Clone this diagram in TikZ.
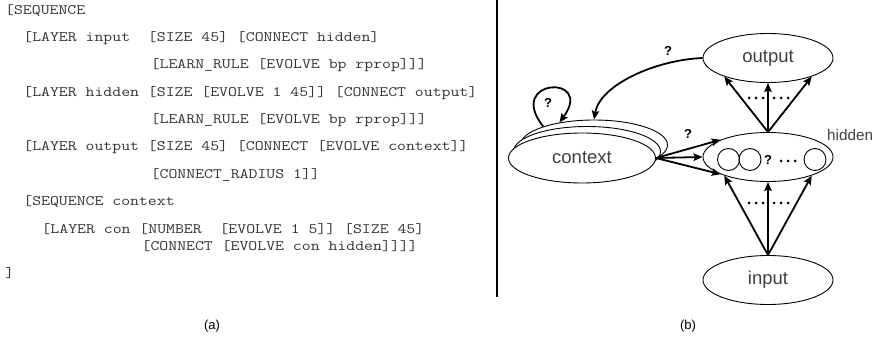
\documentclass[tikz,border=0pt]{standalone}
\usepackage{fontspec}
\setmainfont{Liberation Sans}
\newfontfamily\codefont{Latin Modern Mono}[FakeStretch=1.2]
\usetikzlibrary{shapes.geometric,arrows.meta}

\begin{document}
\frenchspacing
\begin{tikzpicture}[x=1pt,y=-1pt,
  code/.style={anchor=west, inner sep=0pt, text height=9pt, text depth=3pt,
               font=\codefont\fontsize{14.4}{16}\selectfont, text=black!80},
  layer/.style={ellipse, draw, line width=0.9pt, minimum width=130pt,
                minimum height=49pt, inner sep=0pt, fill=white,
                font=\fontsize{18.5}{20}\selectfont, text=black!75},
  ctxlayer/.style={layer, minimum width=147pt, minimum height=50pt},
  unit/.style={circle, draw, line width=0.9pt, minimum size=22pt, inner sep=0pt},
  arr/.style={line width=1.8pt, -{Stealth[length=9pt,width=7.5pt,inset=1.5pt]}},
  qmark/.style={font=\bfseries\fontsize{13}{13}\selectfont, inner sep=0pt},
  captext/.style={font=\fontsize{13}{13}\selectfont, inner sep=0pt}
]
\useasboundingbox (0,0) rectangle (879,339);

% ---- (a) network description (one character = 9.1pt) ----
\node[code] (c0)  at (5,11.5)     {[SEQUENCE};
\node[code] (c1)  at (23.2,38.5)  {[LAYER input~~[SIZE 45] [CONNECT hidden]};
\node[code] (c2)  at (150.6,66)   {[LEARN\_RULE [EVOLVE bp rprop]]]};
\node[code] (c3)  at (23.2,93.5)  {[LAYER hidden [SIZE [EVOLVE 1 45]] [CONNECT output]};
\node[code] (c4)  at (150.6,120.5){[LEARN\_RULE [EVOLVE bp rprop]]]};
\node[code] (c5)  at (23.2,148)   {[LAYER output [SIZE 45] [CONNECT [EVOLVE context]]};
\node[code] (c6)  at (150.6,175.5){[CONNECT\_RADIUS 1]]};
\node[code] (c7)  at (23.2,202.5) {[SEQUENCE context};
\node[code] (c8)  at (41.4,230.5) {[LAYER con [NUMBER~~[EVOLVE 1 5]] [SIZE 45]};
\node[code] (c9)  at (141.5,247.5){[CONNECT [EVOLVE con hidden]]]]};
\node[code] (c10) at (5,274.5)    {]};

% separator
\draw[line width=1.1pt] (497,0) -- (497,297);

% ---- (b) network graph ----
\node[layer] (out) at (768,58)  {output};
\node[layer] (hid) at (768,157) {};
\node[layer] (inp) at (768,280) {input};

\node[ctxlayer] (ctx3) at (594,145)   {};
\node[ctxlayer] (ctx2) at (587,151.5) {};
\node[ctxlayer] (ctx)  at (582,158)   {context};

% units of the hidden layer
\node[unit] (u1) at (728.5,159.5) {};
\node[unit] (u2) at (750,159.5) {};
\node[qmark] (uq) at (768,160) {?};
\foreach \x in {781,788,795} \fill (\x,161) circle (1.5pt);
\node[unit] (u3) at (815,159.5) {};

\node[anchor=west, inner sep=0pt, font=\fontsize{15.3}{16}\selectfont, text=black!75]
  (hidlabel) at (827,135) {hidden};

% input -> hidden
\draw[arr] (inp.north) -- (hid.-157);
\draw[arr] (inp.north) -- (hid.south);
\draw[arr] (inp.north) -- (hid.-23);
\foreach \x in {749,756,763,774,781,788} \fill (\x,203) circle (1.5pt);

% hidden -> output
\draw[arr] (hid.north) -- (out.-157);
\draw[arr] (hid.north) -- (out.south);
\draw[arr] (hid.north) -- (out.-23);
\foreach \x in {749,756,763,774,781,788} \fill (\x,98) circle (1.5pt);

% context -> hidden
\draw[arr] (ctx.east) -- (hid.160);
\draw[arr] (ctx.east) -- (hid.west);
\draw[arr] (ctx.east) -- (hid.200);
\node[qmark] (q2) at (688,134) {?};

% output -> context
\draw[arr] (out.west) .. controls (655,60) and (600,85) .. (ctx3.north);
\node[qmark] (q1) at (668,51) {?};

% context -> context
\draw[arr] (ctx3.160) .. controls (505,78) and (595,74) .. (ctx3.147);
\node[qmark] (q3) at (548,103) {?};

% captions
\node[captext] (capa) at (212,326) {(a)};
\node[captext] (capb) at (688,326) {(b)};
\end{tikzpicture}
\end{document}
